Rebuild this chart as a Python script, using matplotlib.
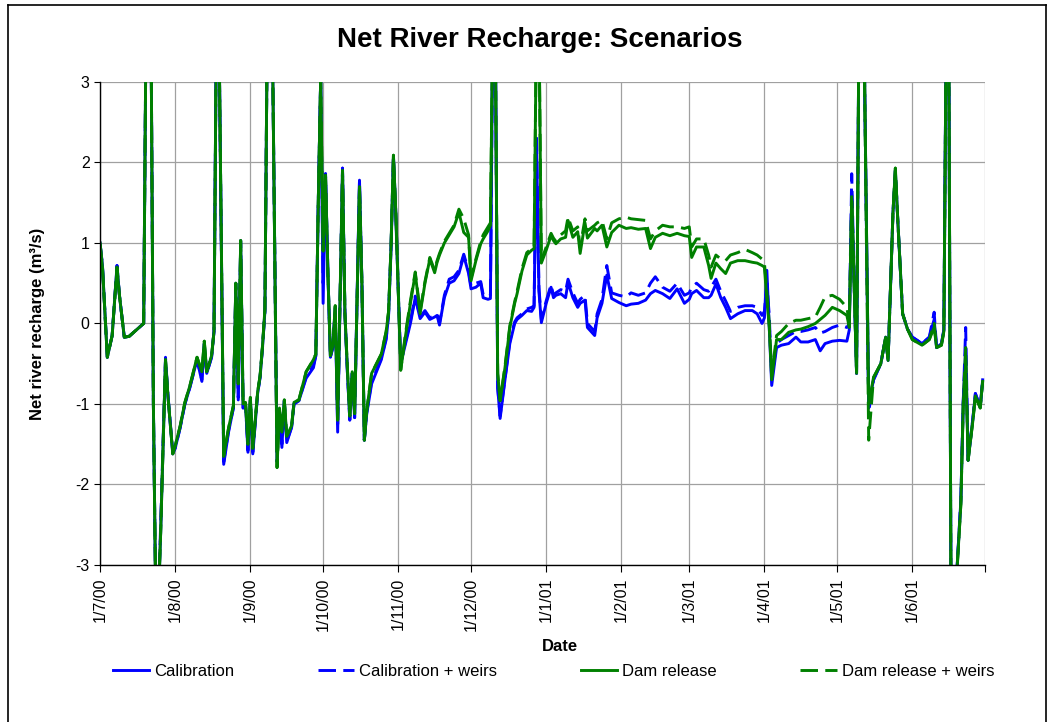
import numpy as np
import pandas as pd
import matplotlib
matplotlib.use('Agg')
from matplotlib import pyplot as plt
from matplotlib.lines import Line2D

plt.rcParams['font.family'] = ['Liberation Sans', 'DejaVu Sans']
plt.rcParams['axes.unicode_minus'] = False

# days since 1 July 2000, one row per month
day_offset = [
    0, 1, 3, 5, 7, 8, 10, 12, 15, 18, 19, 21, 22, 23, 24, 25, 27, 28, 30,
    31, 33, 35, 37, 40, 42, 43, 44, 46, 47, 48, 49, 51, 53, 55, 56, 57, 58, 59, 60, 61,
    62, 63, 65, 66, 67, 68, 69, 71, 73, 74, 75, 76, 77, 79, 80, 82, 85, 88, 89, 90, 91,
    92, 93, 94, 95, 96, 97, 98, 100, 101, 102, 103, 104, 105, 106, 107, 108, 109, 110, 112, 114, 116, 118, 119, 120, 121, 122,
    124, 126, 128, 130, 132, 134, 136, 138, 139, 140, 142, 144, 146, 148, 150, 152,
    153, 155, 157, 158, 160, 161, 162, 163, 164, 165, 167, 169, 171, 172, 174, 176, 178, 179, 180, 181, 182,
    184, 186, 187, 188, 190, 192, 193, 195, 197, 198, 200, 201, 204, 205, 207, 209, 211, 214,
    217, 219, 222, 225, 227, 229, 232, 235, 238, 241,
    243, 244, 246, 249, 251, 252, 254, 256, 258, 260, 263, 266, 269, 271, 273,
    274, 275, 276, 277, 279, 281, 284, 287, 289, 292, 295, 297, 299, 302,
    305, 308, 309, 310, 311, 312, 313, 315, 317, 319, 322, 324, 325, 327, 328, 329, 331, 333,
    335, 339, 342, 344, 345, 347, 348, 349, 350, 351, 352, 355, 356, 357, 358, 360, 361, 363, 364,
]

calibration = [
    1.0, 0.72, -0.42, -0.15, 0.72, 0.35, -0.17, -0.16, -0.08, 0.0, 3.8, 3.8, -1.0, -3.5, -3.5, -2.6, -0.45, -0.9, -1.62,
    -1.55, -1.3, -1.0, -0.8, -0.45, -0.72, -0.25, -0.62, -0.42, -0.1, 3.8, 3.8, -1.75, -1.35, -1.05, 0.45, -0.95, 1.0, -1.05, -1.0, -1.6,
    -0.95, -1.62, -0.87, -0.67, -0.3, 0.15, 3.8, 3.8, -1.7, -1.08, -1.54, -0.96, -1.48, -1.29, -1.0, -0.96, -0.68, -0.55, -0.4, 1.5, 3.05,
    0.25, 1.86, 0.6, -0.42, -0.3, 0.2, -1.35, 1.93, 0.12, -0.6, -1.2, -0.62, -1.17, 0.3, 1.78, 0.5, -1.45, -1.12, -0.75, -0.6, -0.45, -0.2, 0.1, 0.9, 2.05, 1.3,
    -0.5, -0.25, 0.0, 0.32, 0.06, 0.14, 0.05, 0.08, 0.1, -0.02, 0.32, 0.5, 0.53, 0.62, 0.84, 0.62,
    0.43, 0.45, 0.5, 0.32, 0.3, 0.31, 3.8, 3.8, -0.8, -1.18, -0.7, -0.25, 0.0, 0.05, 0.1, 0.16, 0.15, 0.2, 2.3, 0.4, 0.01,
    0.25, 0.45, 0.32, 0.35, 0.37, 0.32, 0.51, 0.32, 0.2, 0.25, 0.29, -0.05, -0.15, 0.07, 0.25, 0.6, 0.31, 0.26,
    0.22, 0.24, 0.25, 0.29, 0.37, 0.41, 0.37, 0.31, 0.43, 0.25,
    0.3, 0.37, 0.41, 0.32, 0.32, 0.35, 0.49, 0.32, 0.2, 0.06, 0.12, 0.16, 0.16, 0.12, 0.0,
    0.07, 0.66, -0.05, -0.77, -0.3, -0.27, -0.25, -0.17, -0.23, -0.23, -0.2, -0.34, -0.25, -0.22,
    -0.21, -0.22, -0.08, 1.6, 0.5, -0.62, 3.8, 3.8, -1.0, -0.7, -0.5, -0.17, -0.46, 1.37, 1.9, 1.28, 0.12, -0.07,
    -0.17, -0.25, -0.17, 0.05, -0.3, -0.25, -0.08, 3.8, 3.8, -3.8, -3.8, -2.2, -0.96, -0.3, -1.7, -1.17, -0.87, -1.04, -0.7,
]

calibration_weirs = [
    1.0, 0.72, -0.42, -0.15, 0.72, 0.35, -0.17, -0.16, -0.08, 0.0, 3.8, 3.8, -1.0, -3.5, -3.5, -2.5, -0.42, -0.88, -1.6,
    -1.55, -1.3, -1.0, -0.8, -0.45, -0.7, -0.25, -0.62, -0.42, -0.1, 3.8, 3.8, -1.72, -1.33, -1.05, 0.5, -0.92, 1.03, -1.05, -1.0, -1.58,
    -0.95, -1.6, -0.87, -0.67, -0.3, 0.15, 3.8, 3.8, -1.72, -1.08, -1.5, -0.96, -1.46, -1.29, -1.0, -0.96, -0.66, -0.52, -0.4, 1.5, 3.05,
    0.5, 1.86, 0.6, -0.42, -0.3, 0.2, -1.3, 1.93, 0.12, -0.6, -1.2, -0.62, -1.17, 0.3, 1.78, 0.5, -1.45, -1.1, -0.72, -0.58, -0.43, -0.18, 0.12, 0.95, 2.09, 1.37,
    -0.5, -0.22, 0.03, 0.34, 0.08, 0.16, 0.07, 0.1, 0.12, 0.0, 0.35, 0.55, 0.58, 0.66, 0.86, 0.65,
    0.46, 0.5, 0.52, 0.36, 0.33, 0.35, 3.8, 3.8, -0.8, -1.15, -0.68, -0.22, 0.02, 0.07, 0.12, 0.18, 0.2, 0.22, 2.3, 0.45, 0.05,
    0.28, 0.48, 0.35, 0.38, 0.42, 0.4, 0.55, 0.38, 0.25, 0.3, 0.35, 0.0, -0.1, 0.12, 0.3, 0.72, 0.38, 0.35,
    0.33, 0.38, 0.35, 0.38, 0.5, 0.58, 0.45, 0.4, 0.5, 0.35,
    0.38, 0.45, 0.5, 0.42, 0.4, 0.45, 0.55, 0.4, 0.28, 0.15, 0.2, 0.22, 0.22, 0.2, 0.1,
    0.15, 0.5, 0.1, -0.7, -0.25, -0.2, -0.15, -0.1, -0.1, -0.08, -0.05, -0.12, -0.1, -0.05,
    -0.02, -0.05, 0.0, 1.86, 0.5, -0.62, 3.8, 3.8, -1.1, -0.7, -0.5, -0.17, -0.46, 1.37, 1.9, 1.28, 0.12, -0.07,
    -0.17, -0.25, -0.17, 0.14, -0.3, -0.25, -0.08, 3.8, 3.8, -3.8, -3.8, -2.2, -0.96, -0.05, -1.7, -1.17, -0.87, -1.04, -0.7,
]

dam_release = [
    1.0, 0.7, -0.42, -0.15, 0.7, 0.35, -0.17, -0.16, -0.08, 0.0, 3.8, 3.8, -1.0, -3.5, -3.5, -2.6, -0.45, -0.9, -1.62,
    -1.52, -1.28, -0.98, -0.78, -0.42, -0.6, -0.22, -0.6, -0.4, -0.1, 3.8, 3.8, -1.65, -1.3, -1.02, 0.5, -0.75, 1.03, -1.0, -0.98, -1.5,
    -0.92, -1.55, -0.85, -0.65, -0.28, 0.18, 3.8, 3.8, -1.79, -1.05, -1.35, -0.95, -1.4, -1.27, -0.98, -0.95, -0.6, -0.45, -0.38, 1.5, 3.05,
    0.9, 1.84, 0.6, -0.4, -0.28, 0.22, -1.2, 1.9, 0.12, -0.55, -1.15, -0.6, -1.12, 0.3, 1.7, 0.5, -1.45, -1.08, -0.62, -0.5, -0.38, -0.1, 0.15, 0.95, 2.09, 1.37,
    -0.58, -0.15, 0.25, 0.62, 0.12, 0.5, 0.8, 0.63, 0.76, 0.85, 1.0, 1.1, 1.2, 1.38, 1.13, 1.07,
    0.53, 0.78, 0.99, 1.05, 1.15, 1.22, 3.8, 3.8, -0.62, -0.96, -0.55, -0.05, 0.25, 0.37, 0.65, 0.85, 0.91, 0.93, 3.8, 3.8, 0.75,
    0.91, 1.09, 1.03, 0.99, 1.05, 1.07, 1.28, 1.07, 1.14, 0.87, 1.25, 1.06, 1.18, 1.15, 1.22, 0.95, 1.13, 1.22,
    1.18, 1.19, 1.17, 1.18, 0.93, 1.07, 1.12, 1.09, 1.12, 1.09,
    1.08, 0.82, 0.95, 0.95, 0.72, 0.56, 0.75, 0.68, 0.62, 0.75, 0.78, 0.78, 0.76, 0.75, 0.72,
    0.7, 0.3, -0.05, -0.7, -0.2, -0.2, -0.11, -0.08, -0.07, -0.04, 0.0, 0.05, 0.1, 0.2,
    0.16, 0.1, -0.05, 1.55, 0.5, -0.62, 3.8, 3.8, -1.0, -0.67, -0.5, -0.17, -0.46, 1.37, 1.93, 1.28, 0.12, -0.07,
    -0.2, -0.27, -0.2, -0.05, -0.3, -0.27, -0.1, 3.8, 3.8, -3.8, -3.8, -2.25, -1.0, -0.46, -1.7, -1.2, -0.9, -1.05, -0.72,
]

dam_release_weirs = [
    1.0, 0.7, -0.42, -0.15, 0.7, 0.35, -0.17, -0.16, -0.08, 0.0, 3.8, 3.8, -1.0, -3.5, -3.5, -2.6, -0.45, -0.9, -1.62,
    -1.52, -1.28, -0.98, -0.78, -0.42, -0.6, -0.22, -0.6, -0.4, -0.1, 3.8, 3.8, -1.65, -1.3, -1.02, 0.5, -0.75, 1.03, -1.0, -0.98, -1.5,
    -0.92, -1.55, -0.85, -0.65, -0.28, 0.18, 3.8, 3.8, -1.79, -1.05, -1.35, -0.95, -1.4, -1.27, -0.98, -0.95, -0.6, -0.45, -0.38, 1.5, 3.05,
    0.9, 1.84, 0.6, -0.4, -0.28, 0.22, -1.2, 1.9, 0.12, -0.55, -1.15, -0.6, -1.12, 0.3, 1.7, 0.5, -1.45, -1.08, -0.62, -0.5, -0.38, -0.1, 0.15, 0.95, 2.09, 1.37,
    -0.58, -0.12, 0.28, 0.64, 0.15, 0.52, 0.82, 0.66, 0.78, 0.87, 1.02, 1.12, 1.22, 1.42, 1.3, 1.1,
    0.56, 0.8, 1.02, 1.1, 1.2, 1.25, 3.8, 3.8, -0.62, -0.96, -0.53, -0.03, 0.27, 0.4, 0.68, 0.88, 0.93, 0.95, 3.8, 3.8, 0.78,
    0.95, 1.12, 1.06, 1.02, 1.1, 1.15, 1.32, 1.15, 1.2, 0.95, 1.3, 1.15, 1.22, 1.25, 1.28, 1.05, 1.25, 1.3,
    1.32, 1.3, 1.29, 1.28, 1.05, 1.15, 1.22, 1.2, 1.2, 1.18,
    1.2, 0.95, 1.05, 1.05, 0.85, 0.7, 0.85, 0.8, 0.78, 0.85, 0.88, 0.92, 0.88, 0.85, 0.8,
    0.75, 0.4, 0.0, -0.65, -0.15, -0.1, 0.0, 0.04, 0.04, 0.06, 0.08, 0.2, 0.33, 0.35,
    0.3, 0.2, 0.0, 1.6, 0.5, -0.62, 3.8, 3.8, -1.45, -0.67, -0.5, -0.17, -0.46, 1.37, 1.93, 1.28, 0.12, -0.07,
    -0.2, -0.27, -0.2, 0.0, -0.3, -0.27, -0.1, 3.8, 3.8, -3.8, -3.8, -2.25, -1.0, -0.3, -1.7, -1.2, -0.9, -1.05, -0.72,
]

series_names = ['Calibration', 'Calibration + weirs', 'Dam release', 'Dam release + weirs']
month_labels = ['1/7/00', '1/8/00', '1/9/00', '1/10/00', '1/11/00', '1/12/00',
                '1/1/01', '1/2/01', '1/3/01', '1/4/01', '1/5/01', '1/6/01', '']
y_ticks = [-3, -2, -1, 0, 1, 2, 3]

start = pd.Timestamp('2000-07-01')
dates = start + pd.to_timedelta(day_offset, unit='D')
month_starts = pd.date_range('2000-07-01', '2001-07-01', freq='MS')

fig = plt.figure(figsize=(10.53, 7.22), dpi=100)
ax = fig.add_axes([0.095, 0.2175, 0.8405, 0.669])

blue = '#0000ff'
green = '#008000'
dash = (0, (6, 2.5))
styles = [(blue, '-'), (blue, dash), (green, '-'), (green, dash)]
all_series = [calibration, calibration_weirs, dam_release, dam_release_weirs]

for values, name, (color, ls) in zip(all_series, series_names, styles):
    ax.plot(dates, values, color=color, linestyle=ls, lw=2.1, label=name)

ax.set_ylim(-3, 3)
ax.set_xlim(month_starts[0], month_starts[-1])
ax.set_yticks(y_ticks)
ax.set_xticks(month_starts)
ax.set_xticklabels(month_labels, rotation=90, fontsize=11.5)
ax.tick_params(axis='y', labelsize=11.5, direction='out', length=4, color='black')
ax.tick_params(axis='x', direction='out', length=5, color='black', pad=4)
ax.grid(True, color='#a0a0a0', lw=0.9)
ax.set_axisbelow(True)

for side in ['top', 'right']:
    ax.spines[side].set_visible(False)
for side in ['left', 'bottom']:
    ax.spines[side].set_color('black')
    ax.spines[side].set_linewidth(1.0)

ax.set_ylabel('Net river recharge (m³/s)', fontsize=12, fontweight='bold')
ax.yaxis.set_label_coords(-0.062, 0.5)

fig.text(0.513, 0.945, 'Net River Recharge: Scenarios', ha='center', va='center',
         fontsize=20, fontweight='bold')
fig.text(0.532, 0.104, 'Date', ha='center', va='center', fontsize=12, fontweight='bold')

fig.legend(loc='center', bbox_to_anchor=(0.5257, 0.0706), ncol=4, frameon=False,
           fontsize=12, handlelength=2.2, handletextpad=0.3, columnspacing=5.0)

# outer chart border
for xs, ys in [([0.008, 0.008], [0.0, 0.993]), ([0.008, 0.993], [0.993, 0.993]),
               ([0.993, 0.993], [0.0, 0.993])]:
    fig.add_artist(Line2D(xs, ys, color='black', lw=1.2, transform=fig.transFigure))

fig.savefig('out.png', dpi=100)
